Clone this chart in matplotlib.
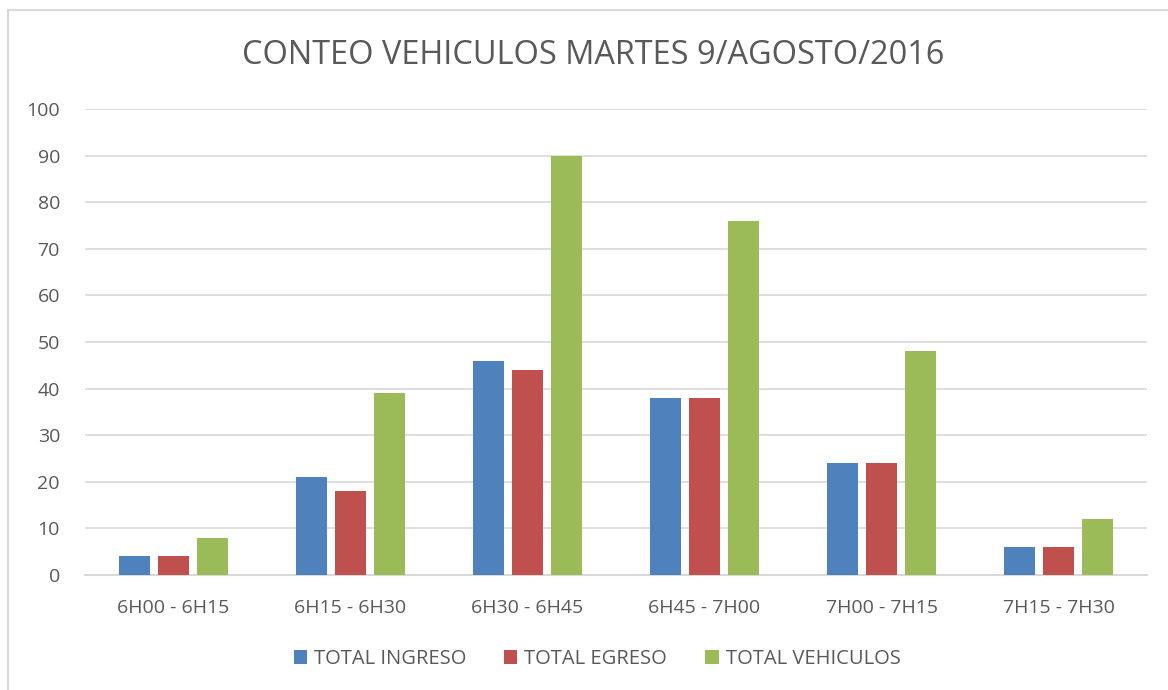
import numpy as np
import matplotlib.pyplot as plt
from matplotlib.patches import Rectangle

plt.rcParams['font.family'] = ['Open Sans', 'DejaVu Sans']

FRANJAS = ['6H00 - 6H15', '6H15 - 6H30', '6H30 - 6H45', '6H45 - 7H00', '7H00 - 7H15', '7H15 - 7H30']
TOTAL_INGRESO = [4, 21, 46, 38, 24, 6]
TOTAL_EGRESO = [4, 18, 44, 38, 24, 6]
TOTAL_VEHICULOS = [8, 39, 90, 76, 48, 12]

SERIES = [
    ('TOTAL INGRESO', TOTAL_INGRESO, '#4f81bd'),
    ('TOTAL EGRESO', TOTAL_EGRESO, '#c0504d'),
    ('TOTAL VEHICULOS', TOTAL_VEHICULOS, '#9bbb59'),
]
TEXT_COLOR = '#595959'

fig = plt.figure(figsize=(11.68, 6.9), dpi=100)
ax = fig.add_axes([85 / 1168, 1 - 575 / 690, (1147 - 85) / 1168, (575 - 109) / 690])

# chart border (light grey box like the Excel chart area)
fig.patches.append(Rectangle((8 / 1168, -0.05), 1.2, 1 - 10 / 690 + 0.05,
                             transform=fig.transFigure, fill=False,
                             edgecolor='#d9d9d9', linewidth=1.5))

x = np.arange(len(FRANJAS))
width = 0.175
step = 0.22
for i, (name, vals, color) in enumerate(SERIES):
    ax.bar(x + (i - 1) * step, vals, width, color=color, label=name, zorder=3)

ax.set_xlim(-0.5, len(FRANJAS) - 0.5)
ax.set_ylim(0, 100)
ax.set_yticks(range(0, 101, 10))
ax.set_xticks(x)
ax.set_xticklabels(FRANJAS)
ax.grid(axis='y', color='#d9d9d9', linewidth=1.2, zorder=0)
for s in ['top', 'right', 'left']:
    ax.spines[s].set_visible(False)
ax.spines['bottom'].set_color('#d9d9d9')
ax.spines['bottom'].set_linewidth(1.5)
ax.tick_params(axis='both', length=0, colors=TEXT_COLOR, labelsize=14)
ax.tick_params(axis='x', pad=17)
ax.tick_params(axis='y', pad=18)

fig.text(593 / 1168, 1 - 55 / 690, 'CONTEO VEHICULOS MARTES 9/AGOSTO/2016',
         ha='center', va='center', fontsize=23.4, color=TEXT_COLOR)

leg = ax.legend(loc='center', bbox_to_anchor=(597 / 1168, 1 - 659 / 690),
                bbox_transform=fig.transFigure, ncol=3, frameon=False,
                fontsize=14.5, handlelength=0.65, handleheight=0.65,
                handletextpad=0.35, columnspacing=1.9)
for t in leg.get_texts():
    t.set_color(TEXT_COLOR)

fig.savefig('out.png', dpi=100)
